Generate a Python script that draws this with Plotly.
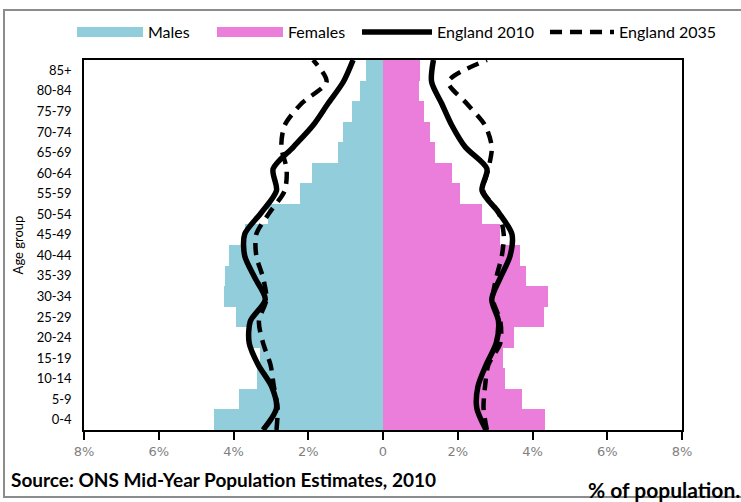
import plotly.graph_objects as go

age_groups = ["0-4", "5-9", "10-14", "15-19", "20-24", "25-29", "30-34", "35-39",
              "40-44", "45-49", "50-54", "55-59", "60-64", "65-69", "70-74",
              "75-79", "80-84", "85+"]

males = [4.52, 3.85, 3.38, 3.30, 3.60, 3.94, 4.26, 4.23, 4.12, 3.70, 3.07,
         2.22, 1.91, 1.20, 1.06, 0.82, 0.62, 0.46]
females = [4.34, 3.73, 3.27, 3.21, 3.51, 4.30, 4.41, 3.82, 3.67, 3.14, 2.65,
           2.06, 1.84, 1.39, 1.26, 1.11, 0.97, 0.99]

england2010_m = [3.21, 2.85, 2.98, 3.34, 3.58, 3.55, 3.15, 3.43, 3.70, 3.70,
                 3.25, 2.85, 2.94, 2.40, 1.87, 1.47, 1.06, 0.80]
england2035_m = [2.85, 2.82, 2.92, 3.01, 3.21, 3.32, 3.12, 3.21, 3.39, 3.39,
                 3.03, 2.63, 2.58, 2.72, 2.63, 2.18, 1.51, 1.87]
england2010_f = [2.76, 2.51, 2.54, 2.76, 3.03, 3.09, 2.91, 3.14, 3.40, 3.45,
                 3.09, 2.65, 2.78, 2.20, 1.84, 1.57, 1.30, 1.35]
england2035_f = [2.78, 2.69, 2.73, 2.82, 3.14, 3.14, 2.94, 3.03, 3.18, 3.23,
                 3.09, 2.68, 2.82, 2.91, 2.73, 2.24, 1.75, 2.78]

tick_vals = [-8, -6, -4, -2, 0, 2, 4, 6, 8]
tick_text = ["8%", "6%", "4%", "2%", "0", "2%", "4%", "6%", "8%"]

BLUE = "#92CDDC"
PINK = "#EB7DDB"
FONT = "Lato, 'Open Sans', sans-serif"

# plot area in screen pixels
L, R, T, B = 84, 682, 60, 430
W, H = R - L, B - T


def px(x):
    return (x - L) / W


def py(y):
    return (B - y) / H


fig = go.Figure()

# legend-only proxies for the bar series (no data)
fig.add_trace(go.Scatter(x=[None], y=[None], mode="lines", name="Males",
                         line=dict(color=BLUE, width=14), legend="legend"))
fig.add_trace(go.Scatter(x=[None], y=[None], mode="lines", name="Females",
                         line=dict(color=PINK, width=14), legend="legend2"))

fig.add_trace(go.Bar(y=age_groups, x=[-v for v in males], orientation="h",
                     marker=dict(color=BLUE, line=dict(width=0)),
                     name="Males", showlegend=False))
fig.add_trace(go.Bar(y=age_groups, x=females, orientation="h",
                     marker=dict(color=PINK, line=dict(width=0)),
                     name="Females", showlegend=False))

pos = list(range(len(age_groups)))
solid = dict(color="black", width=5.5, shape="spline", smoothing=0.8)
dashed = dict(color="black", width=4.5, dash="12px,8px", shape="spline", smoothing=0.8)

fig.add_trace(go.Scatter(x=[-v for v in england2010_m], y=pos, yaxis="y2",
                         mode="lines", name="England 2010", line=solid,
                         legend="legend3"))
fig.add_trace(go.Scatter(x=england2010_f, y=pos, yaxis="y2",
                         mode="lines", name="England 2010", showlegend=False, line=solid))
fig.add_trace(go.Scatter(x=[-v for v in england2035_m], y=pos, yaxis="y2",
                         mode="lines", name="England 2035", line=dashed,
                         legend="legend4"))
fig.add_trace(go.Scatter(x=england2035_f, y=pos, yaxis="y2",
                         mode="lines", name="England 2035", showlegend=False, line=dashed))

leg_font = dict(family=FONT, size=16, color="black")


def leg(x, w):
    return dict(orientation="h", x=px(x), xanchor="left", y=py(32), yanchor="middle",
                font=leg_font, itemwidth=w, bgcolor="rgba(0,0,0,0)", borderwidth=0)


fig.update_layout(
    width=741, height=502,
    margin=dict(l=L, r=741 - R, t=T, b=502 - B),
    paper_bgcolor="white", plot_bgcolor="white",
    barmode="relative", bargap=0,
    font=dict(family=FONT, size=13, color="black"),
    showlegend=True,
    legend=leg(72, 66),
    legend2=leg(212, 66),
    legend3=leg(357, 70),
    legend4=leg(545, 64),
    xaxis=dict(range=[-8, 8], tickvals=tick_vals, ticktext=tick_text,
               showgrid=False, zeroline=False, showline=True, linecolor="black",
               linewidth=2, mirror=True, ticks="outside", ticklen=8,
               tickwidth=2, tickcolor="black",
               tickfont=dict(family="'DejaVu Sans', sans-serif", size=13, color="#7f7f7f")),
    yaxis=dict(type="category", categoryorder="array", categoryarray=age_groups,
               range=[-0.5, 17.5], showgrid=False, zeroline=False, showline=True,
               linecolor="black", linewidth=1.5, mirror=True, ticks="",
               ticklabelstandoff=8,
               tickfont=dict(family=FONT, size=13, color="black"),
               title=dict(text="Age group", font=dict(family=FONT, size=13), standoff=10)),
    yaxis2=dict(overlaying="y", range=[0, 17], visible=False, showgrid=False),
)

# outer chart border
fig.add_shape(type="rect", xref="paper", yref="paper",
              x0=px(4), x1=px(760), y0=py(497), y1=py(10),
              line=dict(color="#8c8c8c", width=2), fillcolor="rgba(0,0,0,0)", layer="below")

fig.add_annotation(text="<b>Source: ONS Mid-Year Population Estimates, 2010</b>",
                   xref="paper", yref="paper", x=px(9), y=py(479),
                   xanchor="left", yanchor="middle", showarrow=False,
                   font=dict(family=FONT, size=19, color="black"))
fig.add_annotation(text="<b>% of population.</b>",
                   xref="paper", yref="paper", x=px(586), y=py(489),
                   xanchor="left", yanchor="middle", showarrow=False,
                   font=dict(family=FONT, size=21, color="black"))

fig.write_html("out.html", config={"displayModeBar": False},
               post_script="document.body.style.margin='0';")
